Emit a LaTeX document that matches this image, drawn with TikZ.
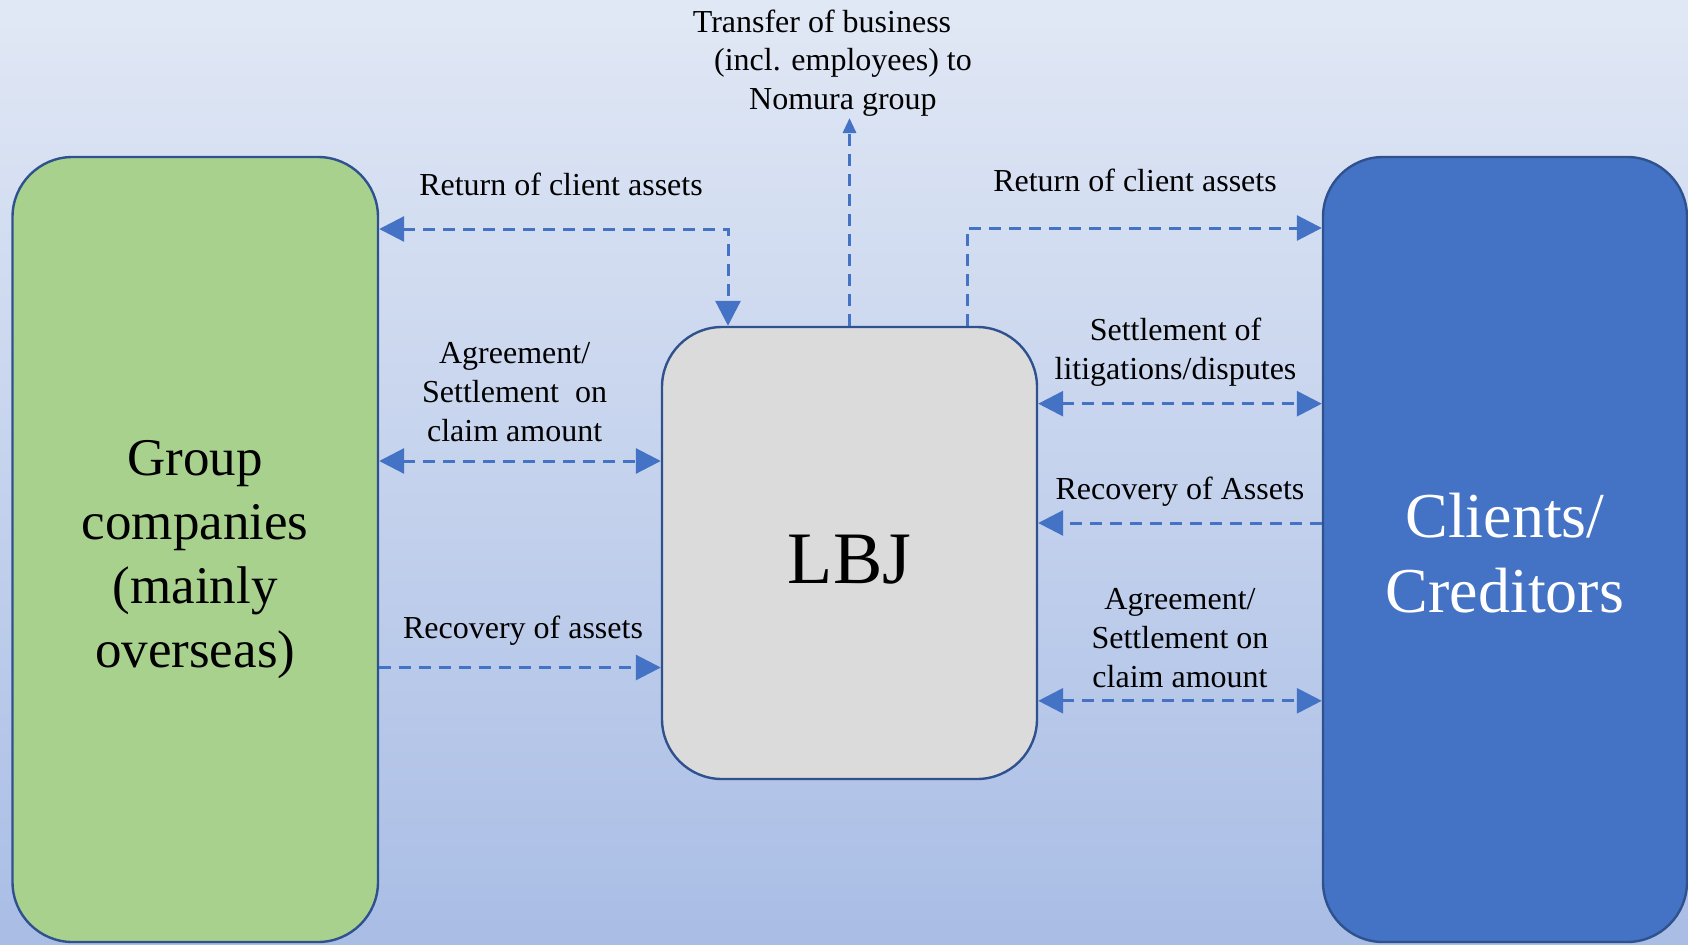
\documentclass[tikz,border=0pt]{standalone}
\usepackage{fontspec}
\setmainfont{Liberation Serif}
\usetikzlibrary{arrows.meta}
\definecolor{bgtop}{RGB}{225,232,245}
\definecolor{bgbot}{RGB}{169,189,229}
\definecolor{grpfill}{RGB}{169,209,142}
\definecolor{edgecol}{RGB}{47,82,143}
\definecolor{lbjfill}{RGB}{219,219,219}
\definecolor{clifill}{RGB}{68,114,196}
\definecolor{arrcol}{RGB}{68,114,196}
\tikzset{
  bigtip/.tip={Triangle[length=12.5pt,width=12.5pt]},
  smalltip/.tip={Triangle[length=7.5pt,width=6.5pt]},
}
\begin{document}
\begin{tikzpicture}[x=0.5pt,y=-0.5pt,
  boxnode/.style={draw=edgecol, line width=1.2pt, rounded corners=30pt, inner sep=0pt, align=center},
  flow/.style={draw=arrcol, line width=1.5pt, dash pattern=on 6pt off 4pt},
  lbl/.style={font=\fontsize{16}{19.4}\selectfont, align=center, inner sep=0pt},
]
\useasboundingbox (0,0) rectangle (1688,944);
\shade[top color=bgtop, bottom color=bgbot] (0,0) rectangle (1688,944);

% boxes
\node[boxnode, fill=grpfill, minimum width=182.75pt, minimum height=392.5pt,
      font=\fontsize{26.5}{32}\selectfont] (grp) at (195.25,549.5)
  {\rule{0pt}{28pt}Group\\companies\\(mainly\\overseas)};
\node[boxnode, fill=lbjfill, minimum width=187.5pt, minimum height=226pt,
      text height=30pt, text depth=0pt,
      font=\fontsize{37}{44}\selectfont] (lbj) at (849.5,553) {LBJ};
\node[boxnode, fill=clifill, minimum width=182pt, minimum height=392.5pt,
      text=white, font=\fontsize{32}{37.7}\selectfont] (cli) at (1505,549.5)
  {\rule{0pt}{26pt}Clients/\\Creditors};

% helper coordinates
\coordinate (c1) at (728,229);
\coordinate (c2) at (849.5,118);
\coordinate (c3) at (967,228);
\coordinate (c4) at (520,461);
\coordinate (c5) at (520,667.5);
\coordinate (c6) at (1180,403.7);
\coordinate (c7) at (1180,523);
\coordinate (c8) at (1180,700.8);

% connectors
\draw[flow, bigtip-bigtip] (grp.east |- c1) -- (c1) -- (c1 |- lbj.north);
\draw[flow, -smalltip] (lbj.north) -- (c2);
\draw[flow, -bigtip] (c3 |- lbj.north) -- (c3) -- (c3 -| cli.west);
\draw[flow, bigtip-bigtip] (grp.east |- c4) -- (lbj.west |- c4);
\draw[flow, -bigtip] (grp.east |- c5) -- (lbj.west |- c5);
\draw[flow, bigtip-bigtip] (lbj.east |- c6) -- (cli.west |- c6);
\draw[flow, -bigtip] (cli.west |- c7) -- (lbj.east |- c7);
\draw[flow, bigtip-bigtip] (lbj.east |- c8) -- (cli.west |- c8);

% labels
\node[lbl] (tTransfer) at (843,63) {Transfer of business\hspace*{21pt}\\(incl. employees) to\\Nomura group};
\node[lbl] (tRetL) at (561,184) {Return of client assets};
\node[lbl] (tRetR) at (1135,180) {Return of client assets};
\node[lbl] (tAgrL) at (514.6,392) {Agreement/\\Settlement~~on\\claim amount};
\node[lbl] (tRecL) at (523,630.6) {Recovery of assets};
\node[lbl] (tSetR) at (1175.5,351.8) {Settlement of\\litigations/disputes};
\node[lbl] (tRecR) at (1180,491.7) {Recovery of Assets};
\node[lbl] (tAgrR) at (1180,638.3) {Agreement/\\Settlement on\\claim amount};
\end{tikzpicture}
\end{document}
